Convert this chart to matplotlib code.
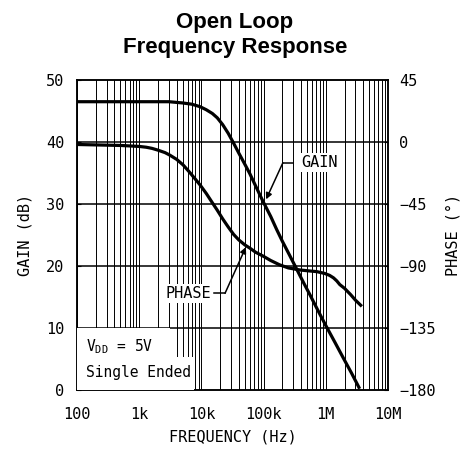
import matplotlib
matplotlib.use("Agg")

import matplotlib.pyplot as plt
import matplotlib.patches as mpatches

# ── Curve data ────────────────────────────────────────────────────────────────
gain_freq = [100, 1e3, 3e3, 5e3, 7e3, 9.5e3, 12e3, 15e3, 18e3, 22e3, 27e3,
             33e3, 40e3, 50e3, 60e3, 77e3, 98e3, 130e3, 162e3, 200e3, 266e3,
             340e3, 450e3, 560e3, 750e3, 1e6, 1.4e6, 1.88e6, 2.6e6, 3.5e6]
gain_db = [46.5, 46.5, 46.5, 46.3, 46.1, 45.7, 45.2, 44.6, 43.9, 42.8, 41.4,
           39.8, 38.2, 36.4, 34.9, 32.6, 30.4, 28.0, 25.9, 24.0, 21.6,
           19.5, 17.1, 15.3, 12.8, 10.4, 7.7, 5.3, 2.7, 0.2]

phase_freq = [100, 500, 1e3, 1.3e3, 1.6e3, 2e3, 2.6e3, 3.1e3, 4e3, 5.1e3,
              6.5e3, 8e3, 9.5e3, 12e3, 15e3, 18e3, 22e3, 27e3, 33e3, 40e3,
              50e3, 60e3, 75e3, 98e3, 130e3, 180e3, 250e3, 386e3, 550e3,
              720e3, 960e3, 1.15e6, 1.33e6, 1.5e6, 1.68e6, 2.0e6, 2.5e6,
              3.0e6, 3.8e6]
phase_deg = [-1.8, -2.5, -3.2, -3.8, -4.6, -5.9, -7.7, -9.5, -12.6, -16.7,
             -22.1, -27.0, -31.1, -37.4, -44.1, -49.5, -55.8, -61.7, -67.1,
             -71.1, -74.7, -77.0, -80.1, -82.8, -86.0, -89.1, -91.4, -92.9,
             -93.6, -94.1, -95.4, -96.8, -98.6, -100.8, -103.5, -106.2,
             -110.7, -114.8, -119.3]

freq_ticks = [1e2, 1e3, 1e4, 1e5, 1e6, 1e7]
freq_labels = ["100", "1k", "10k", "100k", "1M", "10M"]
gain_ticks = [0, 10, 20, 30, 40, 50]
phase_ticks = [-180, -135, -90, -45, 0, 45]
phase_labels = ["\u2212180", "\u2212135", "\u221290", "\u221245", "0", "45"]

MONO = "DejaVu Sans Mono"
plt.rcParams["font.family"] = MONO

fig = plt.figure(figsize=(4.65, 4.66), dpi=100)
ax = fig.add_axes([0.1656, 0.1631, 0.6688, 0.6652])
ax2 = ax.twinx()

# Grid: every 1..9 step inside each decade, plus the major gain lines
for dec in freq_ticks[:-1]:
    for m in range(1, 10):
        ax.axvline(dec * m, color="black", lw=0.7, zorder=1)
for g in gain_ticks[1:-1]:
    ax.axhline(g, color="black", lw=1.1, zorder=1)

curve = dict(color="black", lw=2.3, zorder=5, solid_joinstyle="round",
             solid_capstyle="butt")
ax.plot(gain_freq, gain_db, **curve)
ax2.plot(phase_freq, phase_deg, **curve)

ax.set_xscale("log")
ax.set_xlim(1e2, 1e7)
ax.set_ylim(0, 50)
ax2.set_ylim(-180, 45)
ax.minorticks_off()

ax.set_xticks(freq_ticks)
ax.set_xticklabels(freq_labels)
ax.set_yticks(gain_ticks)
ax2.set_yticks(phase_ticks)
ax2.set_yticklabels(phase_labels)
ax.tick_params(axis="x", length=0, pad=12, labelsize=11)
ax.tick_params(axis="y", length=3, direction="in", pad=9, labelsize=11)
ax2.tick_params(axis="y", length=3, direction="in", pad=8, labelsize=11)

for a in (ax, ax2):
    for s in a.spines.values():
        s.set_linewidth(1.1)

ax.set_xlabel("FREQUENCY (Hz)", fontsize=11, labelpad=6)
ax.set_ylabel("GAIN (dB)", fontsize=11, labelpad=10)
ax2.set_ylabel("PHASE (\u00b0)", fontsize=11, labelpad=7)

fig.text(0.505, 0.925, "Open Loop\nFrequency Response", ha="center",
         va="center", fontsize=16, fontweight="bold",
         family="Liberation Sans", linespacing=1.2)

# Curve call-outs
arrow = dict(arrowstyle="-|>", color="black", lw=1.1, mutation_scale=9,
             shrinkA=0, shrinkB=0)
ax2.annotate("", xy=(0.608, 0.615), xytext=(0.662, 0.733),
             xycoords="axes fraction", arrowprops=arrow, zorder=6)
ax2.plot([0.662, 0.696], [0.733, 0.733], color="black", lw=1.1,
         transform=ax2.transAxes, zorder=6)
ax2.text(0.722, 0.733, "GAIN", transform=ax2.transAxes, ha="left",
         va="center", fontsize=11, zorder=4,
         bbox=dict(facecolor="white", edgecolor="none", pad=1.5))

ax2.annotate("", xy=(0.543, 0.461), xytext=(0.476, 0.312),
             xycoords="axes fraction", arrowprops=arrow, zorder=6)
ax2.plot([0.44, 0.476], [0.312, 0.312], color="black", lw=1.1,
         transform=ax2.transAxes, zorder=6)
ax2.text(0.43, 0.312, "PHASE", transform=ax2.transAxes, ha="right",
         va="center", fontsize=11, zorder=4,
         bbox=dict(facecolor="white", edgecolor="none", pad=1.5))

# White panel behind the supply note
for x0, y0, w, h in [(0.0, 0.106, 0.30, 0.094), (0.0, 0.0, 0.375, 0.106)]:
    ax2.add_patch(mpatches.Rectangle((x0, y0), w, h, transform=ax2.transAxes,
                                     facecolor="white", edgecolor="none",
                                     zorder=3, clip_on=False))
ax2.text(0.03, 0.139, r"V$_{\mathregular{DD}}$ = 5V", transform=ax2.transAxes,
         ha="left", va="center", fontsize=10.5, zorder=4)
ax2.text(0.03, 0.055, "Single Ended", transform=ax2.transAxes,
         ha="left", va="center", fontsize=10.5, zorder=4)

fig.savefig("out.png", dpi=100, facecolor="white")
